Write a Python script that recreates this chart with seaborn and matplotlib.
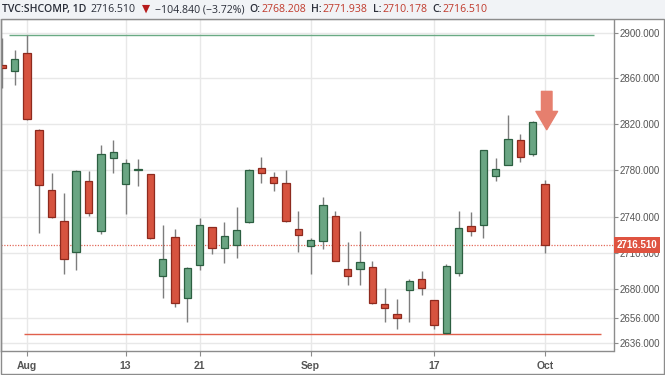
import numpy as np
import pandas as pd
import matplotlib
matplotlib.use("Agg")
import matplotlib.pyplot as plt
import seaborn as sns
from matplotlib.ticker import FixedLocator, FuncFormatter, NullLocator
from matplotlib.patches import Rectangle
from matplotlib.lines import Line2D

# ---------------- data ----------------
dates = ["2018-07-30", "2018-07-31", "2018-08-01", "2018-08-02", "2018-08-03",
         "2018-08-06", "2018-08-07", "2018-08-08", "2018-08-09", "2018-08-10",
         "2018-08-13", "2018-08-14", "2018-08-15", "2018-08-16", "2018-08-17",
         "2018-08-20", "2018-08-21", "2018-08-22", "2018-08-23", "2018-08-24",
         "2018-08-27", "2018-08-28", "2018-08-29", "2018-08-30", "2018-08-31",
         "2018-09-03", "2018-09-04", "2018-09-05", "2018-09-06", "2018-09-07",
         "2018-09-10", "2018-09-11", "2018-09-12", "2018-09-13", "2018-09-14",
         "2018-09-17", "2018-09-18", "2018-09-19", "2018-09-20", "2018-09-21",
         "2018-09-25", "2018-09-26", "2018-09-27", "2018-09-28", "2018-10-08"]

opens = [2871.8, 2866.7, 2882.7, 2815.0, 2763.3, 2736.8, 2711.0, 2770.8, 2728.6, 2790.8,
         2768.2, 2779.9, 2776.8, 2690.9, 2723.3, 2672.3, 2699.9, 2731.5, 2714.3, 2716.3,
         2735.7, 2781.7, 2774.5, 2769.3, 2729.8, 2716.0, 2720.2, 2740.8, 2696.8, 2696.3,
         2698.0, 2667.8, 2659.4, 2678.8, 2688.0, 2670.9, 2643.6, 2693.5, 2732.6, 2733.2,
         2774.8, 2784.8, 2806.1, 2793.7, 2768.208]
highs = [2895.8, 2885.1, 2898.7, 2815.6, 2777.6, 2760.3, 2780.0, 2779.6, 2801.7, 2806.1,
         2789.4, 2789.4, 2777.0, 2733.4, 2730.1, 2697.9, 2739.1, 2731.8, 2736.0, 2748.7,
         2781.0, 2791.4, 2778.2, 2780.5, 2745.0, 2722.7, 2756.9, 2745.5, 2719.1, 2728.6,
         2703.2, 2680.6, 2671.4, 2688.3, 2694.9, 2671.2, 2700.5, 2745.5, 2744.1, 2797.5,
         2790.3, 2827.8, 2811.0, 2822.3, 2771.938]
lows = [2851.5, 2854.1, 2823.5, 2726.5, 2739.6, 2692.4, 2695.7, 2741.3, 2725.9, 2777.9,
        2742.8, 2766.5, 2721.3, 2672.5, 2665.4, 2652.6, 2695.7, 2709.1, 2701.3, 2705.5,
        2735.2, 2769.3, 2762.3, 2736.2, 2710.5, 2692.4, 2713.0, 2703.0, 2683.6, 2683.6,
        2667.4, 2652.8, 2647.1, 2652.7, 2674.8, 2647.4, 2643.3, 2690.7, 2724.4, 2722.2,
        2771.0, 2784.3, 2787.1, 2792.1, 2710.178]
closes = [2868.8, 2876.8, 2824.0, 2767.4, 2740.0, 2704.6, 2779.4, 2743.6, 2794.0, 2795.5,
          2786.0, 2781.0, 2722.2, 2704.9, 2668.7, 2697.6, 2733.4, 2714.3, 2723.9, 2729.2,
          2780.2, 2777.4, 2769.1, 2737.0, 2724.8, 2720.5, 2750.6, 2703.5, 2691.0, 2702.2,
          2668.2, 2664.3, 2655.9, 2686.2, 2681.0, 2650.6, 2699.3, 2730.9, 2728.6, 2797.1,
          2781.1, 2806.7, 2791.7, 2821.4, 2716.510]

x_tick_dates = ["2018-08-01", "2018-08-13", "2018-08-21", "2018-09-03", "2018-09-17", "2018-10-08"]
x_tick_labels = ["Aug", "13", "21", "Sep", "17", "Oct"]
y_ticks = [2636, 2656, 2680, 2710, 2740, 2780, 2820, 2860, 2900]

# drawn horizontal levels: (price, start index, end index)
resistance = [2898.7, 0.55, 47.96]
support = [2643.3, 1.79, 48.5]
signal_price = [2815.0]   # tip of the sell arrow above the last bar

title_segments = [
    ("TVC:SHCOMP, 1D", "#2a2e39", "semibold", 5),
    ("2716.510", "#2a2e39", "normal", 6),
    ("\u25BC", "#b71c1c", "normal", 5),
    ("\u2212104.840 (\u22123.72%)", "#2a2e39", "normal", 5),
    ("O:", "#2a2e39", "semibold", 1),
    ("2768.208", "#c0392b", "normal", 5),
    ("H:", "#2a2e39", "semibold", 1),
    ("2771.938", "#c0392b", "normal", 5),
    ("L:", "#2a2e39", "semibold", 1),
    ("2710.178", "#c0392b", "normal", 5),
    ("C:", "#2a2e39", "semibold", 1),
    ("2716.510", "#c0392b", "normal", 0),
]

# ---------------- figure ----------------
sns.set_theme(style="white")
plt.rcParams["font.family"] = ["Liberation Sans", "DejaVu Sans"]

W, H = 665, 375
fig = plt.figure(figsize=(W / 100, H / 100), dpi=100, facecolor="white")

# title strip background
fig.patches.append(Rectangle((0, 1 - 18.5 / H), 1, 18.5 / H, transform=fig.transFigure,
                             facecolor="#f1f3f6", edgecolor="none", zorder=0))

ax = fig.add_axes([1 / W, 1 - 351 / H, 612.5 / W, (351 - 18.5) / H])
ax.set_facecolor("white")

df = pd.DataFrame({"date": pd.to_datetime(dates), "open": opens, "high": highs,
                   "low": lows, "close": closes})
df["idx"] = np.arange(len(df))
up = (df["close"] >= df["open"]).to_numpy()

# wicks
ax.vlines(df["idx"], df["low"], df["high"], color="#7d7d7d", linewidth=1.0, zorder=3)
# bodies
bottoms = np.minimum(df["open"], df["close"])
heights = np.maximum((df["close"] - df["open"]).abs(), 0.3)
ax.bar(df["idx"], heights, bottom=bottoms, width=0.6,
       color=np.where(up, "#6aa583", "#d6533f"),
       edgecolor=np.where(up, "#2c5f41", "#8e2a1e"),
       linewidth=0.9, zorder=4)

# drawn levels
ax.hlines(resistance[0], resistance[1], resistance[2], color="#6aaa84", linewidth=1.0, zorder=2.5)
ax.hlines(support[0], support[1], support[2], color="#e0604c", linewidth=1.0, zorder=2.5)

# last price dotted line
last_close = df["close"].iloc[-1]
ax.axhline(last_close, color="#e36a5a", linewidth=0.9, linestyle=(0, (1, 1.2)), zorder=2.2)

# sell arrow
ax.annotate("", xy=(df["idx"].iloc[-1] + 0.13, signal_price[0]), xycoords="data",
            xytext=(0, 27.6), textcoords="offset points",
            arrowprops=dict(arrowstyle="simple,head_length=13.2,head_width=15.6,tail_width=7.6",
                            color="#e67f6e", shrinkA=0, shrinkB=0, mutation_scale=1),
            zorder=6)

# scales
ax.set_yscale("log")
ax.set_ylim(2629.2, 2913.3)
ax.set_xlim(-0.094, 49.54)

ax.yaxis.set_major_locator(FixedLocator(y_ticks))
ax.yaxis.set_minor_locator(NullLocator())
ax.yaxis.set_major_formatter(FuncFormatter(lambda v, p: f"{v:.3f}"))
ax.yaxis.tick_right()

tick_pos = [int(df.index[df["date"] == pd.Timestamp(d)][0]) for d in x_tick_dates]
ax.set_xticks(tick_pos)
ax.set_xticklabels(x_tick_labels)
ax.xaxis.set_minor_locator(NullLocator())

ax.tick_params(axis="y", which="major", right=True, left=False, direction="out", length=3,
               width=0.8, color="#8c8c8c", labelsize=7, labelcolor="#555555", pad=1.5)
ax.tick_params(axis="x", which="major", bottom=True, direction="out", length=3.5,
               width=0.8, color="#8c8c8c", labelsize=7.5, labelcolor="#555555", pad=3.5)
for lab in ax.get_xticklabels():
    lab.set_fontweight("semibold")

ax.set_axisbelow(True)
ax.grid(True, which="major", color="#e8e8e8", linewidth=1.0)

for side in ["left", "right", "bottom"]:
    ax.spines[side].set_color("#8c8c8c")
    ax.spines[side].set_linewidth(1.0)
ax.spines["top"].set_color("#bdbdbd")
ax.spines["top"].set_linewidth(1.0)

# last price label box
ax.annotate(f"{last_close:.3f}", xy=(1, last_close), xycoords=("axes fraction", "data"),
            xytext=(2.3, 0), textcoords="offset points", ha="left", va="center",
            color="white", fontsize=7, fontweight="bold",
            bbox=dict(boxstyle="square,pad=0.3", facecolor="#df5340", edgecolor="none"),
            annotation_clip=False, zorder=10)

# outer frame
fig.add_artist(Rectangle((0.5 / W, 1.5 / H), 663.5 / W, (373 - 18.5) / H,
                         transform=fig.transFigure, fill=False,
                         edgecolor="#8c8c8c", linewidth=1.0))

# title, laid out segment by segment
fig.canvas.draw()
renderer = fig.canvas.get_renderer()
xpix = 1.5
for txt, col, wt, gap in title_segments:
    t = fig.text(xpix / W, 1 - 9.5 / H, txt, color=col, fontweight=wt, fontsize=7.6,
                 family=["Open Sans", "DejaVu Sans"], ha="left", va="center")
    bb = t.get_window_extent(renderer=renderer)
    xpix = bb.x1 + gap

fig.savefig("out.png", dpi=100, facecolor=fig.get_facecolor())
